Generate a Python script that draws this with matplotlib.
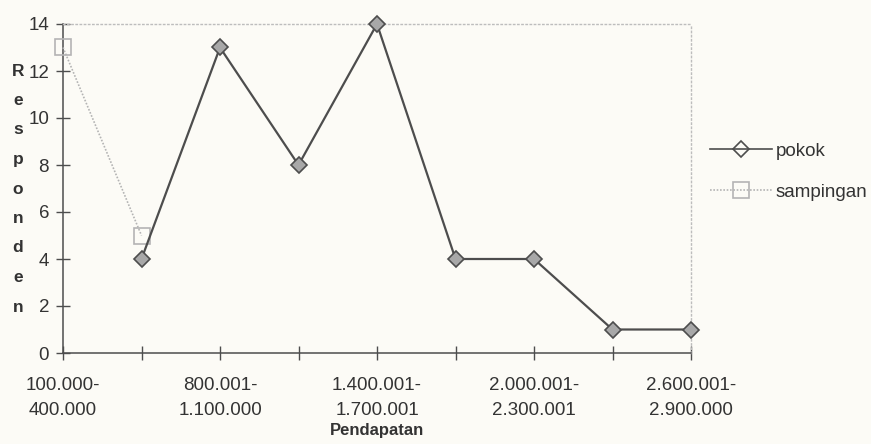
import numpy as np
import matplotlib
matplotlib.use("Agg")
import matplotlib.pyplot as plt
from matplotlib.lines import Line2D

plt.rcParams['font.family'] = ['Liberation Sans', 'DejaVu Sans']

# Income classes (Rp); only every other class is labelled on the axis
categories = ["100.000-\n400.000", "", "800.001-\n1.100.000", "",
              "1.400.001-\n1.700.001", "", "2.000.001-\n2.300.001", "",
              "2.600.001-\n2.900.000"]
pokok = [np.nan, 4, 13, 8, 14, 4, 4, 1, 1]
sampingan = [13, 5, np.nan, np.nan, np.nan, np.nan, np.nan, np.nan, np.nan]
y_ticks = [0, 2, 4, 6, 8, 10, 12, 14]

bg = "#fcfbf6"
dark = "#4d4d4d"
light = "#b4b4b4"
txt = "#333333"

fig = plt.figure(figsize=(8.71, 4.44), dpi=100, facecolor=bg)
ax = fig.add_axes([63 / 871, 1 - 353 / 444, (691 - 63) / 871, (353 - 24) / 444])
ax.set_facecolor(bg)

x = np.arange(len(categories))
ax.plot(x, sampingan, color=light, lw=1.2, ls=(0, (1, 1)), marker="s",
        ms=11, mfc="none", mec=light, mew=1.2, zorder=3, clip_on=False)
ax.plot(x, pokok, color=dark, lw=1.6, marker="D", ms=8,
        mfc="#a8a8a8", mec=dark, mew=1.2, zorder=4, clip_on=False)

ax.set_xlim(0, len(categories) - 1)
ax.set_ylim(0, 14)
ax.set_yticks(y_ticks)
ax.set_xticks(x[::2])
ax.set_xticklabels([c for c in categories[::2]], fontsize=13.5, color=txt,
                   linespacing=1.65)
ax.set_xticks(x, minor=True)
ax.tick_params(axis="y", direction="inout", length=10, width=1, color=dark,
               labelsize=13.5, labelcolor=txt, pad=5)
ax.tick_params(axis="x", which="both", direction="inout", length=10, width=1,
               color=dark, pad=12)

for side in ("top", "right"):
    ax.spines[side].set_color("#bdbdbd")
    ax.spines[side].set_linestyle((0, (1, 2)))
    ax.spines[side].set_linewidth(1)
for side in ("left", "bottom"):
    ax.spines[side].set_color(dark)
    ax.spines[side].set_linewidth(1.1)

ax.set_xlabel("Pendapatan", fontsize=12, fontweight="bold", color=txt,
              labelpad=3)

# Vertical axis title, one letter per line
word = "Responden"
y0, y1 = 71, 307
for i, ch in enumerate(word):
    ypix = y0 + (y1 - y0) * i / (len(word) - 1)
    fig.text(18 / 871, 1 - ypix / 444, ch, fontsize=12.5, fontweight="bold",
             color=txt, ha="center", va="center")

handles = [
    Line2D([], [], color=dark, lw=1.2, marker="D", ms=8, mfc="none", mec=dark, mew=1.2),
    Line2D([], [], color=light, lw=1.2, ls=(0, (1, 1)), marker="s", ms=11,
           mfc="none", mec=light, mew=1.2),
]
fig.legend(handles, ["pokok", "sampingan"], loc="upper left",
           bbox_to_anchor=(701 / 871, 1 - 133 / 444), frameon=False,
           fontsize=13.5, handlelength=3.3, handletextpad=0.2,
           labelspacing=1.3, labelcolor=txt, borderpad=0)

fig.savefig("out.png", dpi=100, facecolor=bg)
